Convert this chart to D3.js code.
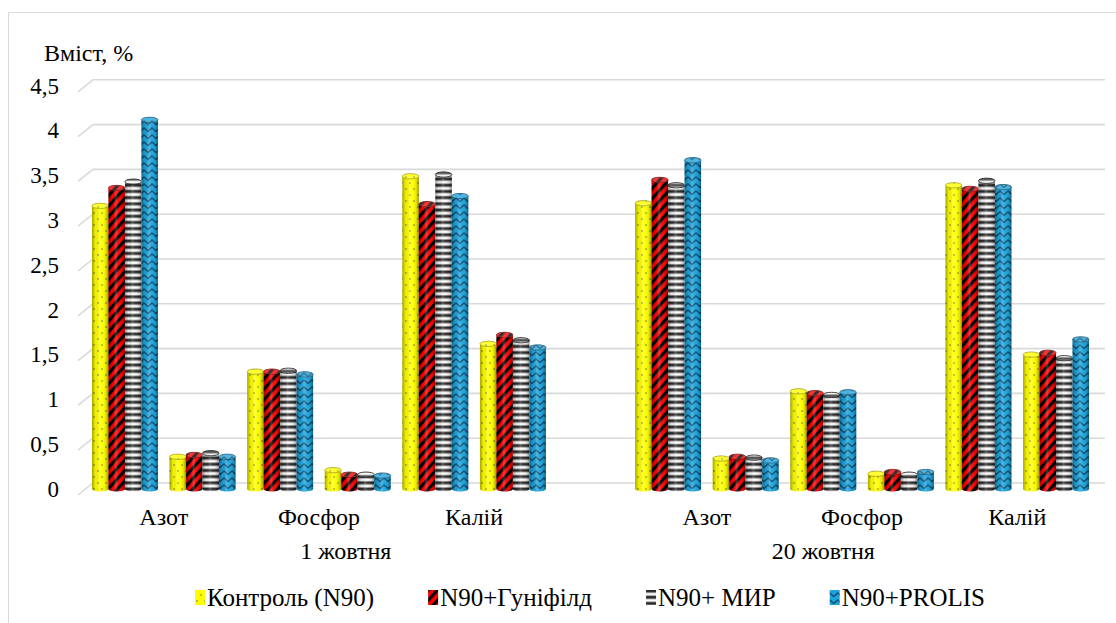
<!DOCTYPE html>
<html>
<head>
<meta charset="utf-8">
<script src="https://cdn.jsdelivr.net/npm/d3@7"></script>
</head>
<body style="margin:0">
<svg id="chart" width="1116" height="623"></svg>
<script>
// Sampling dates and nutrients (each nutrient has two sub-columns per date)
const dates = ["1 жовтня", "20 жовтня"];
const nutrients = ["Азот", "Фосфор", "Калій"];
const parts = ["a", "b"];
const seriesNames = ["Контроль (N90)", "N90+Гуніфілд", "N90+ МИР", "N90+PROLIS"];

// Content, % — order: date 1 (N a, N b, P a, P b, K a, K b), then date 2 in the same order
const control   = [3.16, 0.36, 1.31, 0.21, 3.49, 1.62,   3.19, 0.34, 1.09, 0.17, 3.39, 1.50];
const gunifield = [3.36, 0.38, 1.31, 0.16, 3.18, 1.72,   3.45, 0.36, 1.07, 0.19, 3.35, 1.52];
const mir       = [3.43, 0.40, 1.32, 0.16, 3.51, 1.66,   3.39, 0.35, 1.05, 0.16, 3.44, 1.46];
const prolis    = [4.12, 0.36, 1.28, 0.15, 3.27, 1.58,   3.67, 0.32, 1.08, 0.19, 3.37, 1.67];

const yTicks = [0, 0.5, 1, 1.5, 2, 2.5, 3, 3.5, 4, 4.5];
const yTickLabels = ["0", "0,5", "1", "1,5", "2", "2,5", "3", "3,5", "4", "4,5"];
const yTitle = "Вміст, %";

const seriesValues = [control, gunifield, mir, prolis];

// ---- slot layout: date 1 columns, a spacer, date 2 columns
const slots = [];
dates.forEach((d, di) => {
  if (di > 0) slots.push({ key: "gap" + di, date: di, spacer: true });
  nutrients.forEach((n, ni) => parts.forEach((p, pi) => {
    slots.push({ key: `${di}-${ni}-${pi}`, date: di, nutrient: ni, part: pi, index: di * 6 + ni * 2 + pi });
  }));
});

const svg = d3.select("#chart");
const x = d3.scaleBand().domain(slots.map(s => s.key)).range([86, 1095]).paddingInner(0.15).paddingOuter(0.077);
const xs = d3.scaleBand().domain(seriesNames).range([0, x.bandwidth()]);
const y = d3.scaleLinear().domain([0, 4.5]).range([489, 489 - 4.5 * 89.6]);
const wallShift = 6;   // back wall sits a little higher than the front of the columns

// ---- patterns
const defs = svg.append("defs");

function makePatterns(prefix) {
  // yellow with small dots
  let p = defs.append("pattern").attr("id", prefix + "0").attr("patternUnits", "userSpaceOnUse")
    .attr("width", 8).attr("height", 12);
  p.append("rect").attr("width", 8).attr("height", 12).attr("fill", "#ffff00");
  p.append("circle").attr("cx", 2).attr("cy", 3).attr("r", 0.8).attr("fill", "#6b6b2a");
  p.append("circle").attr("cx", 6).attr("cy", 9).attr("r", 0.8).attr("fill", "#6b6b2a");

  // red with black diagonal stripes
  p = defs.append("pattern").attr("id", prefix + "1").attr("patternUnits", "userSpaceOnUse")
    .attr("width", 7).attr("height", 7).attr("patternTransform", "rotate(-48)");
  p.append("rect").attr("width", 7).attr("height", 7).attr("fill", "#ff0000");
  p.append("rect").attr("width", 7).attr("height", 3.2).attr("fill", "#000");

  // black and white horizontal bands
  p = defs.append("pattern").attr("id", prefix + "2").attr("patternUnits", "userSpaceOnUse")
    .attr("width", 8).attr("height", 6.2);
  p.append("rect").attr("width", 8).attr("height", 6.2).attr("fill", "#2a2a2a");
  p.append("rect").attr("y", 0.4).attr("width", 8).attr("height", 0.7).attr("fill", "#9a9a9a");
  p.append("rect").attr("y", 1.1).attr("width", 8).attr("height", 2.4).attr("fill", "#ffffff");
  p.append("rect").attr("y", 3.5).attr("width", 8).attr("height", 0.7).attr("fill", "#a8a8a8");

  // blue with dark chevrons
  p = defs.append("pattern").attr("id", prefix + "3").attr("patternUnits", "userSpaceOnUse")
    .attr("width", 8).attr("height", 7);
  p.append("rect").attr("width", 8).attr("height", 7).attr("fill", "#1ea4dc");
  p.append("path").attr("d", "M-1,1 L4,5.5 L9,1").attr("fill", "none")
    .attr("stroke", "#0b5277").attr("stroke-width", 1.5);
}
makePatterns("pat");
// legend swatches get their own copies of the fills
seriesNames.forEach((n, i) => {
  const src = d3.select(`#pat${i}`).node().cloneNode(true);
  src.id = `lpat${i}`;
  defs.node().appendChild(src);
});

// cylinder shading
const shade = defs.append("linearGradient").attr("id", "shade").attr("x1", 0).attr("x2", 1).attr("y1", 0).attr("y2", 0);
[[0, "#000", 0.35], [0.22, "#000", 0.05], [0.45, "#fff", 0.22], [0.62, "#fff", 0.04], [0.85, "#000", 0.12], [1, "#000", 0.4]]
  .forEach(([o, c, a]) => shade.append("stop").attr("offset", o).attr("stop-color", c).attr("stop-opacity", a));

// ---- frame
svg.append("path").attr("d", "M8.5,623 V12.5 H1116").attr("fill", "none").attr("stroke", "#d9d9d9").attr("stroke-width", 1);

// ---- gridlines on the back wall, with the floor-side bevel at the left
const grid = svg.append("g");
yTicks.forEach(v => {
  const yg = y(v) - wallShift;
  grid.append("path").attr("d", `M78,${yg + 12} L93,${yg} H1105`)
    .attr("fill", "none").attr("stroke", "#d9d9d9").attr("stroke-width", 1.6);
});

// serif text helper
function addText(parent, size) {
  return parent.append("text").attr("font-size", size).attr("font-family", "Liberation Serif");
}

// ---- y tick labels
const tickG = svg.append("g");
yTicks.forEach((v, i) => {
  addText(tickG, 23).attr("x", 59).attr("y", y(v)).attr("dy", "0.34em")
    .attr("text-anchor", "end").text(yTickLabels[i]);
});

addText(svg, 24).attr("x", 44).attr("y", 61).text(yTitle);

// ---- columns
const ry = 2.6;
function cylinderBody(x0, w, yt, yb) {
  const rx = w / 2;
  return `M${x0},${yt} L${x0},${yb} A${rx},${ry} 0 0 0 ${x0 + w},${yb} L${x0 + w},${yt} A${rx},${ry} 0 0 1 ${x0},${yt} Z`;
}
const edgeColors = ["#9a9a00", "#7a0000", "#000", "#0a4c6e"];

const dataSlots = slots.filter(s => !s.spacer);
const bars = svg.append("g");
dataSlots.forEach(s => {
  seriesNames.forEach((name, si) => {
    const v = seriesValues[si][s.index];
    const x0 = x(s.key) + xs(name);
    const w = xs.bandwidth();
    const yt = y(v), yb = y(0);
    const g = bars.append("g");
    g.append("path").attr("d", cylinderBody(x0, w, yt, yb)).attr("fill", `url(#pat${si})`);
    g.append("path").attr("d", cylinderBody(x0, w, yt, yb)).attr("fill", "url(#shade)");
    g.append("ellipse").attr("cx", x0 + w / 2).attr("cy", yt).attr("rx", w / 2).attr("ry", ry)
      .attr("fill", `url(#pat${si})`).attr("stroke", edgeColors[si]).attr("stroke-width", 0.8);
    g.append("ellipse").attr("cx", x0 + w / 2).attr("cy", yt).attr("rx", w / 2).attr("ry", ry)
      .attr("fill", "#fff").attr("opacity", 0.2);
  });
});

// ---- category labels (one per nutrient, centred over its two columns)
const catG = svg.append("g");
dates.forEach((d, di) => {
  nutrients.forEach((n, ni) => {
    const k0 = `${di}-${ni}-0`, k1 = `${di}-${ni}-1`;
    const cx = (x(k0) + x(k1) + x.bandwidth()) / 2;
    addText(catG, 24).attr("x", cx).attr("y", 525).attr("text-anchor", "middle").text(n);
  });
  const inDate = slots.filter(s => s.date === di || (di === 0 && s.key === "gap1"));
  const first = x(inDate[0].key), last = x(inDate[inDate.length - 1].key) + x.bandwidth();
  addText(catG, 24).attr("x", (first + last) / 2 - (di === 0 ? 12 : 0)).attr("y", 559)
    .attr("text-anchor", "middle").text(d);
});

// ---- legend, spread across the bottom row
const legend = svg.append("g");
const items = seriesNames.map((name, i) => {
  const g = legend.append("g");
  g.append("rect").attr("x", 0).attr("y", -8).attr("width", 10).attr("height", 15).attr("fill", `url(#lpat${i})`);
  const t = addText(g, 25).attr("x", 12).attr("y", 8).text(name);
  return { g, w: 12 + t.node().getComputedTextLength() };
});
const legendLeft = 195, legendRight = 985;
const gap = (legendRight - legendLeft - d3.sum(items, d => d.w)) / (items.length - 1);
let lx = legendLeft;
items.forEach(it => { it.g.attr("transform", `translate(${lx},598)`); lx += it.w + gap; });
</script>
</body>
</html>
